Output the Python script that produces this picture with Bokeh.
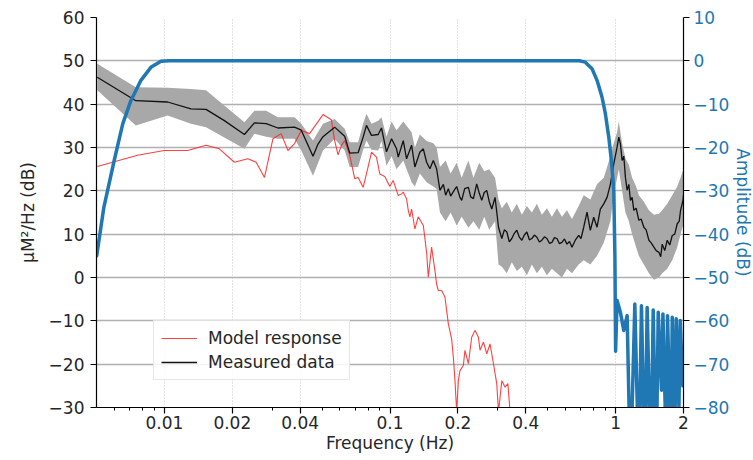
from bokeh.plotting import figure
from bokeh.models import (Range1d, LinearAxis, FixedTicker, CustomJSTickFormatter,
                          Legend, LegendItem)
from bokeh.embed import file_html
from bokeh.resources import INLINE

# ---------------- data ----------------
x_ticks = [0.01, 0.02, 0.04, 0.1, 0.2, 0.4, 1, 2]
x_minor = [0.006, 0.007, 0.008, 0.009, 0.03, 0.05, 0.06, 0.07, 0.08, 0.09,
           0.3, 0.5, 0.6, 0.7, 0.8, 0.9]
left_ticks = [-30, -20, -10, 0, 10, 20, 30, 40, 50, 60]
right_ticks = [-80, -70, -60, -50, -40, -30, -20, -10, 0, 10]

black_freq = [0.00504, 0.00747, 0.01033, 0.01311, 0.01529, 0.01844, 0.02263, 0.02506, 0.02826, 0.03184,
              0.03775, 0.04043, 0.04557, 0.04796, 0.05047, 0.05685, 0.06297, 0.0663, 0.07223, 0.07601,
              0.07864, 0.08277, 0.08866, 0.09168, 0.09648, 0.1016, 0.1069, 0.1088, 0.1145, 0.1184,
              0.1247, 0.1289, 0.1356, 0.1405, 0.1453, 0.1503, 0.1556, 0.1609, 0.1665, 0.1724,
              0.1765, 0.1814, 0.1857, 0.1909, 0.1975, 0.2042, 0.2079, 0.2143, 0.2226, 0.2279,
              0.2343, 0.2423, 0.2486, 0.2551, 0.2617, 0.2685, 0.2754, 0.2826, 0.2922, 0.3027,
              0.3131, 0.3212, 0.3295, 0.3380, 0.3467, 0.3557, 0.3649, 0.3744, 0.3841, 0.3941,
              0.4043, 0.4148, 0.4255, 0.4365, 0.4478, 0.4594, 0.4713, 0.4836, 0.4961, 0.5090,
              0.5222, 0.5357, 0.5495, 0.5638, 0.5784, 0.5934, 0.6088, 0.6245, 0.6407, 0.6627,
              0.6861, 0.7026, 0.7223, 0.7471, 0.7727, 0.8000, 0.8275, 0.8558, 0.8862, 0.9167,
              0.9482, 0.9817, 1.0155, 1.0333, 1.0504, 1.0688, 1.0875, 1.1055, 1.1249, 1.1445,
              1.1636, 1.1838, 1.2047, 1.2333, 1.2680, 1.2981, 1.3345, 1.3664, 1.4048, 1.4382,
              1.4784, 1.5136, 1.5560, 1.5849, 1.6095, 1.6512, 1.6939, 1.7378, 1.7828, 1.8289,
              1.8763, 1.9152, 1.9409, 1.9893, 2.0]
black_db = [46.2, 40.8, 40.5, 38.9, 38.8, 36.2, 33.0, 35.7, 35.5, 34.5,
            34.7, 34.0, 28.0, 30.8, 32.5, 34.7, 32.6, 28.7, 28.8, 32.4,
            35.1, 32.8, 33.0, 34.5, 29.0, 32.0, 29.7, 27.8, 31.6, 27.4,
            30.5, 25.5, 28.9, 29.7, 26.6, 25.1, 27.0, 25.1, 20.1, 21.5,
            19.0, 20.5, 18.8, 19.8, 21.0, 18.5, 17.8, 20.5, 20.8, 18.6,
            18.2, 21.6, 19.5, 17.8, 19.6, 20.1, 17.5, 15.8, 18.5, 11.6,
            9.0, 11.0, 10.5, 8.2, 9.0, 10.2, 10.9, 9.3, 8.6, 9.8,
            10.5, 8.7, 9.0, 9.8, 9.3, 8.2, 8.6, 9.4, 9.0, 7.9,
            8.1, 9.2, 9.0, 7.8, 8.1, 8.9, 7.7, 8.3, 7.0, 8.6,
            9.7, 9.0, 11.6, 15.1, 10.9, 13.9, 11.6, 15.8, 17.0, 18.5,
            21.5, 26.2, 30.1, 32.4, 30.9, 27.0, 28.0, 23.1, 20.1, 21.5,
            17.8, 18.5, 15.5, 16.0, 13.2, 13.5, 11.6, 11.0, 8.6, 8.0,
            7.0, 6.2, 5.8, 4.8, 7.7, 6.2, 8.6, 7.5, 9.7, 10.0,
            12.4, 13.0, 15.5, 17.8, 19.0]

band_freq = [0.00504, 0.00747, 0.01033, 0.01311, 0.01529, 0.02263, 0.02506, 0.02826, 0.03184, 0.03775,
             0.04043, 0.04557, 0.05047, 0.05685, 0.06297, 0.0663, 0.07223, 0.07601, 0.07864, 0.08277,
             0.08866, 0.09168, 0.09648, 0.1016, 0.1069, 0.1145, 0.1247, 0.1289, 0.1356, 0.1453,
             0.1556, 0.1609, 0.1665, 0.1765, 0.1857, 0.1975, 0.2079, 0.2226, 0.2343, 0.2486,
             0.2617, 0.2754, 0.2922, 0.3027, 0.3131, 0.3295, 0.3467, 0.3649, 0.3841, 0.4043,
             0.4255, 0.4478, 0.4713, 0.4961, 0.5222, 0.5495, 0.5784, 0.6088, 0.6407, 0.6861,
             0.7223, 0.7727, 0.8275, 0.8862, 0.9482, 0.9817, 1.0155, 1.0333, 1.0688, 1.1055,
             1.1445, 1.1838, 1.2333, 1.2680, 1.3345, 1.4048, 1.4784, 1.5560, 1.6095, 1.6939,
             1.7828, 1.8763, 1.9409, 2.0]
band_hi = [49.3, 43.9, 43.8, 43.5, 43.2, 35.8, 38.5, 38.5, 37.0, 37.0,
           35.5, 31.6, 35.5, 36.6, 34.3, 31.2, 31.2, 35.5, 37.8, 35.5,
           36.2, 37.0, 32.5, 36.0, 34.0, 36.0, 33.5, 30.0, 33.0, 31.5,
           31.0, 30.0, 25.5, 27.0, 24.0, 26.5, 23.0, 27.0, 23.0, 26.5,
           24.5, 25.0, 23.0, 18.0, 16.0, 17.5, 15.0, 17.0, 14.5, 16.5,
           15.0, 17.0, 14.5, 16.0, 14.0, 16.0, 14.0, 15.5, 13.5, 16.5,
           19.0, 18.0, 21.5, 23.0, 28.0, 31.0, 33.5, 36.0, 31.0, 27.5,
           26.0, 23.0, 21.0, 19.0, 17.5, 15.5, 14.5, 14.7, 15.5, 17.0,
           19.0, 21.0, 23.0, 25.0]
band_lo = [43.2, 35.1, 37.4, 35.5, 34.7, 29.7, 33.2, 32.5, 32.0, 32.0,
           29.3, 23.5, 29.3, 32.0, 29.3, 25.5, 25.5, 29.5, 31.6, 29.5,
           29.3, 31.5, 25.8, 28.0, 25.0, 27.0, 22.0, 21.0, 24.0, 22.0,
           21.0, 20.5, 15.0, 13.0, 15.0, 12.0, 14.0, 11.5, 13.0, 11.0,
           14.0, 11.0, 13.0, 3.0, 2.5, 1.0, 3.5, 1.5, 2.5, 0.5,
           3.0, 1.0, 2.5, 0.5, 2.0, 1.0, 0.0, 2.0, 1.0, 3.0,
           4.0, 3.0, 5.0, 8.0, 13.0, 19.0, 23.0, 25.0, 20.0, 15.0,
           13.0, 10.0, 7.0, 5.0, 3.0, 1.0, -0.5, 0.0, 1.0, 2.0,
           4.0, 7.0, 10.0, 12.4]

red_freq = [0.00504, 0.0076, 0.00998, 0.01268, 0.01529, 0.01752, 0.02043, 0.02343, 0.02551, 0.02777,
            0.03027, 0.03295, 0.03528, 0.03775, 0.04043, 0.04401, 0.05047, 0.05495, 0.05685, 0.05885,
            0.0609, 0.06297, 0.0663, 0.06977, 0.07223, 0.07601, 0.07864, 0.08277, 0.0871, 0.09011,
            0.09482, 0.0998, 0.1033, 0.1069, 0.1088, 0.1125, 0.1145, 0.1184, 0.1205, 0.1225,
            0.1247, 0.1289, 0.1334, 0.1405, 0.1453, 0.1478, 0.1529, 0.1582, 0.1609, 0.1637,
            0.1694, 0.1752, 0.1814, 0.1876, 0.1909, 0.1941, 0.1975, 0.2009, 0.2042, 0.2114,
            0.2149, 0.2226, 0.2302, 0.2381, 0.2466, 0.2506, 0.2596, 0.2685, 0.2777, 0.2875,
            0.2973, 0.3027, 0.3131, 0.3238, 0.3329, 0.3407, 0.3467]
red_db = [25.6, 28.2, 29.3, 29.3, 30.5, 29.7, 26.6, 27.4, 26.6, 23.1,
          32.0, 33.2, 29.3, 30.9, 33.9, 33.2, 37.6, 36.4, 31.6, 28.3,
          30.5, 31.6, 28.2, 22.8, 23.1, 20.8, 23.9, 28.9, 27.8, 23.9,
          23.3, 21.0, 22.4, 20.1, 18.9, 19.3, 19.7, 18.2, 15.5, 14.0,
          15.8, 11.2, 14.0, 12.0, 5.8, 0.1, 7.0, 1.6, -1.5, -3.0,
          -3.0, -4.5, -10.7, -14.2, -18.4, -23.8, -31.0, -23.8, -21.5, -20.3,
          -16.8, -19.9, -13.8, -12.2, -13.8, -16.8, -14.9, -17.6, -15.3, -19.9,
          -24.5, -31.0, -23.8, -25.3, -24.5, -31.0, -40.0]

blue_freq = [0.00501, 0.00539, 0.00599, 0.00654, 0.0071, 0.00787, 0.00871, 0.00965, 0.0105, 0.69,
             0.734, 0.786, 0.8275, 0.871, 0.901, 0.9327, 0.958, 0.9817, 0.993, 1.0,
             1.0155, 1.05, 1.087, 1.125, 1.164, 1.217, 1.268, 1.302, 1.348, 1.380,
             1.434, 1.468, 1.514, 1.545, 1.598, 1.621, 1.677, 1.699, 1.759, 1.783,
             1.833, 1.857, 1.909, 1.935, 1.985, 2.0]
blue_db = [-45, -33.8, -23, -14.5, -9.2, -4.5, -1.5, -0.1, 0, 0,
           -0.3, -1.8, -4.5, -8.4, -12.2, -17.6, -23, -29.9, -45, -67,
           -55.3, -58, -62.2, -58.8, -95, -56.1, -95, -56.5, -95, -56.9,
           -95, -57.5, -95, -58, -76, -58.4, -90, -58.8, -90, -59.2,
           -84, -59.5, -80, -59.9, -75, -68]

# ---------------- figure ----------------
FONT = "DejaVu Sans"
TXT = "#262626"
BLUE = "#1f77b4"

p = figure(frame_width=587, frame_height=390, x_axis_type="log",
           x_range=Range1d(0.005, 2.0), y_range=Range1d(-30, 60),
           min_border_left=96, min_border_right=70, min_border_top=17, min_border_bottom=53,
           output_backend="svg", toolbar_location=None)
p.extra_y_ranges = {"amp": Range1d(-80, 10)}
p.outline_line_color = None
p.background_fill_color = "white"
p.border_fill_color = "white"

neg_code = "return tick < 0 ? '\u2212' + Math.abs(tick) : String(tick);"

p.xaxis.ticker = FixedTicker(ticks=x_ticks, minor_ticks=x_minor)
p.xaxis.formatter = CustomJSTickFormatter(code="return String(tick);")
p.xaxis.axis_label = "Frequency (Hz)"
p.yaxis.ticker = FixedTicker(ticks=left_ticks)
p.yaxis.formatter = CustomJSTickFormatter(code=neg_code)
p.yaxis.axis_label = "\u03bcM\u00b2/Hz (dB)"

right = LinearAxis(y_range_name="amp", ticker=FixedTicker(ticks=right_ticks),
                   formatter=CustomJSTickFormatter(code=neg_code),
                   axis_label="Amplitude (dB)")
p.add_layout(right, "right")

for ax in [p.xaxis[0], p.yaxis[0], right]:
    ax.axis_line_color = "black"
    ax.axis_line_width = 1.2
    ax.major_tick_line_color = "black"
    ax.major_tick_line_width = 1.2
    ax.major_tick_out = 6
    ax.major_tick_in = 0
    ax.minor_tick_line_color = "black"
    ax.minor_tick_line_width = 1
    ax.minor_tick_out = 3
    ax.minor_tick_in = 0
    ax.major_label_text_font = FONT
    ax.major_label_text_font_size = "17px"
    ax.major_label_text_color = TXT
    ax.axis_label_text_font = FONT
    ax.axis_label_text_font_size = "17px"
    ax.axis_label_text_font_style = "normal"
    ax.axis_label_text_color = TXT

p.yaxis[0].major_label_standoff = 6
p.yaxis[0].axis_label_standoff = 8
p.xaxis[0].major_label_standoff = 2
p.xaxis[0].axis_label_standoff = 1
right.major_label_standoff = 4
right.axis_label_standoff = 1
right.major_label_text_color = BLUE
right.axis_label_text_color = BLUE

p.xgrid.grid_line_color = "#c4c4c4"
p.xgrid.grid_line_dash = "1 2"
p.xgrid.grid_line_width = 1
p.ygrid.grid_line_color = "#b0b0b0"
p.ygrid.grid_line_width = 1.5

# ---------------- glyphs ----------------
p.varea(x=band_freq, y1=band_lo, y2=band_hi, fill_color="#a8a8a8", fill_alpha=1.0)
r_red = p.line(red_freq, red_db, line_color="#ff2020", line_alpha=0.85, line_width=1.1)
r_black = p.line(black_freq, black_db, line_color="#111111", line_width=1.3)
p.line(blue_freq, blue_db, y_range_name="amp", line_color=BLUE, line_width=3.5,
       line_join="round", line_cap="round")

legend = Legend(items=[LegendItem(label="Model response", renderers=[r_red]),
                       LegendItem(label="Measured data", renderers=[r_black])],
                location=(57, 27), label_text_font=FONT, label_text_font_size="17px",
                label_text_color=TXT, glyph_width=36, glyph_height=20, label_height=20,
                label_standoff=11, spacing=4, padding=7,
                border_line_color="#d0d0d0", border_line_width=1,
                background_fill_color="white", background_fill_alpha=0.85)
p.add_layout(legend)

open("out.html", "w").write(file_html(p, INLINE))
